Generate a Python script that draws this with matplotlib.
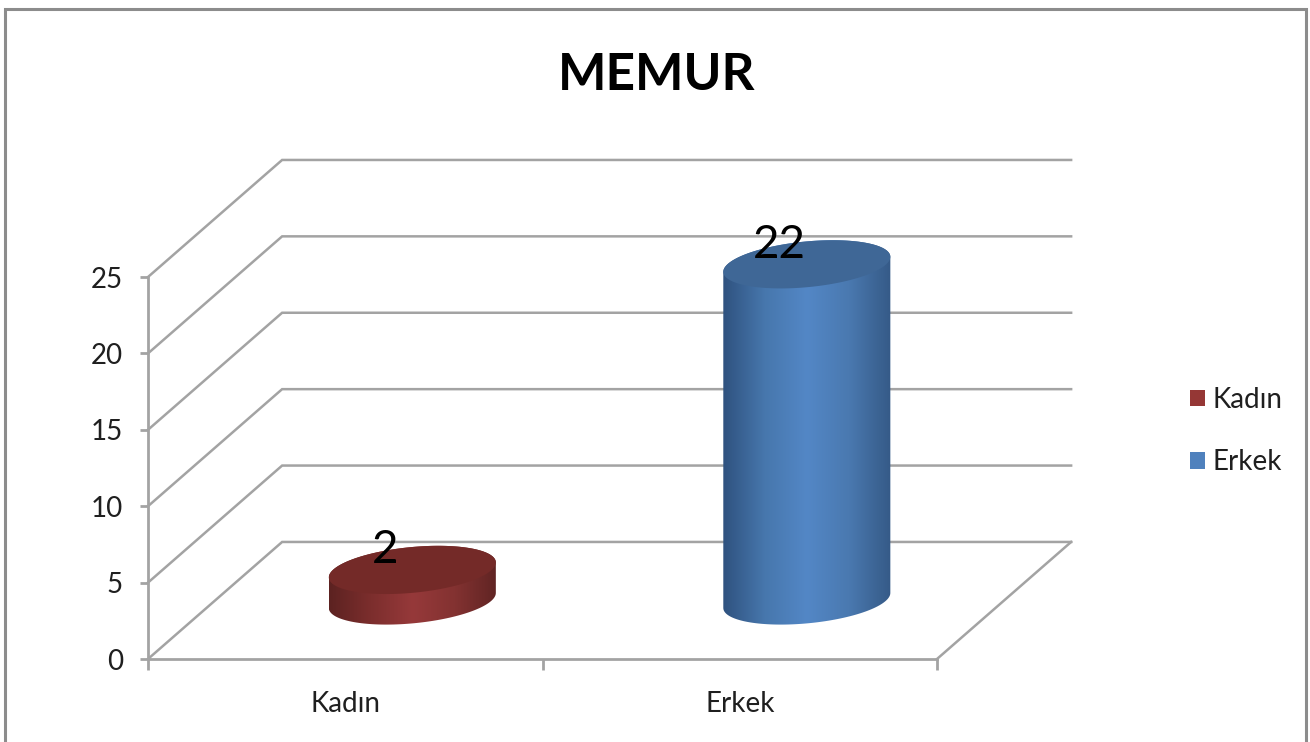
#!/usr/bin/env python3
"""
MEMUR chart: 3D style cylinder columns drawn on a plain 2D axes.
"""

import matplotlib
matplotlib.use('Agg')
import matplotlib.pyplot as plt
import numpy as np
from matplotlib.colors import LinearSegmentedColormap
from matplotlib.patches import Patch, Polygon, Rectangle

categories = ['Kadın', 'Erkek']
values = [2, 22]
y_ticks = [0, 5, 10, 15, 20, 25]
title = 'MEMUR'

plt.rcParams['font.family'] = ['Lato', 'DejaVu Sans']

W, H = 1310, 742
GREY = '#a3a3a3'
TEXT = '#1f1f1f'

body_stops = {
    'Kadın': ['#5c2221', '#7c2e2d', '#96393a', '#833231', '#602423'],
    'Erkek': ['#2f527f', '#4777ad', '#5387c6', '#4a79b0', '#355a87'],
}
top_colors = {'Kadın': '#742a28', 'Erkek': '#3f6796'}
legend_colors = {'Kadın': '#953735', 'Erkek': '#4f81bd'}

# depth of the fake 3D floor, in data units
DEPTH_X = 0.34
DEPTH_Y = 7.66
# cylinder ellipse shape, in data units
HALF_W = 0.2117
HALF_H = 1.5
TILT = 0.49


def ellipse(cx, cy, t):
    """Sheared ellipse points, the tilt makes the right side sit higher."""
    return cx + HALF_W * np.cos(t), cy + TILT * np.cos(t) + HALF_H * np.sin(t)


def draw_cylinder(ax, cx, value, cname):
    base = DEPTH_Y / 2
    top = base + value

    # body runs under the whole top ellipse so no seam shows
    xb, yb = ellipse(cx, base, np.linspace(np.pi, 2 * np.pi, 80))
    xt, yt = ellipse(cx, top, np.linspace(0, np.pi, 80))
    body = Polygon(np.column_stack([np.r_[xb, xt], np.r_[yb, yt]]), closed=True,
                   transform=ax.transData)

    cmap = LinearSegmentedColormap.from_list(cname, body_stops[cname])
    grad = np.linspace(0, 1, 256).reshape(1, -1)
    im = ax.imshow(grad, cmap=cmap, aspect='auto', zorder=3,
                   extent=[cx - HALF_W, cx + HALF_W, base - 3, top + 3])
    im.set_clip_path(body)
    im.set_clip_box(ax.figure.bbox)

    t_all = np.linspace(0, 2 * np.pi, 160)
    xe, ye = ellipse(cx, top, t_all)
    ax.fill(xe, ye, color=top_colors[cname], lw=0, zorder=4, clip_on=False)

    ax.annotate(str(value), xy=(cx, top), xytext=(-19.5, 14), textcoords='offset points',
                ha='center', va='center', fontsize=33, color='black', zorder=5,
                annotation_clip=False)


def main():
    fig = plt.figure(figsize=(W / 100, H / 100), dpi=100, facecolor='white')

    # outer chart frame
    fig.add_artist(Rectangle((5 / W, -0.01), (W - 9) / W, 1 - 8.5 / H + 0.01, transform=fig.transFigure,
                             fill=False, edgecolor='#8c8c8c', lw=2.2))

    ax = fig.add_axes([148 / W, 1 - 659 / H, (937 - 148) / W, (659 - 277) / H])
    ax.set_facecolor('none')
    n = len(categories)

    # walls and floor
    for v in y_ticks:
        ax.plot([0, DEPTH_X, n + DEPTH_X], [v, v + DEPTH_Y, v + DEPTH_Y], color=GREY,
                lw=1.8, clip_on=False, zorder=1, solid_joinstyle='miter')
    ax.plot([n, n + DEPTH_X], [0, DEPTH_Y], color=GREY, lw=1.8, clip_on=False, zorder=1)

    for i, (cat, val) in enumerate(zip(categories, values)):
        draw_cylinder(ax, i + 0.5 + DEPTH_X / 2, val, cat)

    ax.set_xlim(0, n)
    ax.set_ylim(0, 25)
    for side in ['top', 'right']:
        ax.spines[side].set_visible(False)
    for side in ['left', 'bottom']:
        ax.spines[side].set_color(GREY)
        ax.spines[side].set_linewidth(2.0)

    ax.set_yticks(y_ticks)
    ax.tick_params(axis='y', length=6, width=2.0, color=GREY, labelsize=20, labelcolor=TEXT, pad=12)
    for label in ax.get_yticklabels():
        label.set_va('center_baseline')
    ax.set_xticks(range(n + 1))
    ax.set_xticklabels([])
    ax.tick_params(axis='x', which='major', length=8, width=2.0, color=GREY)
    ax.set_xticks([i + 0.5 for i in range(n)], minor=True)
    ax.set_xticklabels(categories, minor=True)
    ax.tick_params(axis='x', which='minor', length=0, labelsize=20, labelcolor=TEXT, pad=23)

    fig.text(657 / W, 1 - 75 / H, title, ha='center', va='center', fontsize=37,
             fontweight='bold', color='black')

    handles = [Patch(facecolor=legend_colors[c], edgecolor='none', label=c) for c in categories]
    fig.legend(handles=handles, loc='center left', bbox_to_anchor=(1190 / W, 1 - 431 / H),
               frameon=False, fontsize=20, labelcolor=TEXT, handlelength=0.54, handleheight=0.54,
               handletextpad=0.28, labelspacing=1.3, borderpad=0, borderaxespad=0)

    fig.savefig('out.png', dpi=100)


if __name__ == "__main__":
    main()
